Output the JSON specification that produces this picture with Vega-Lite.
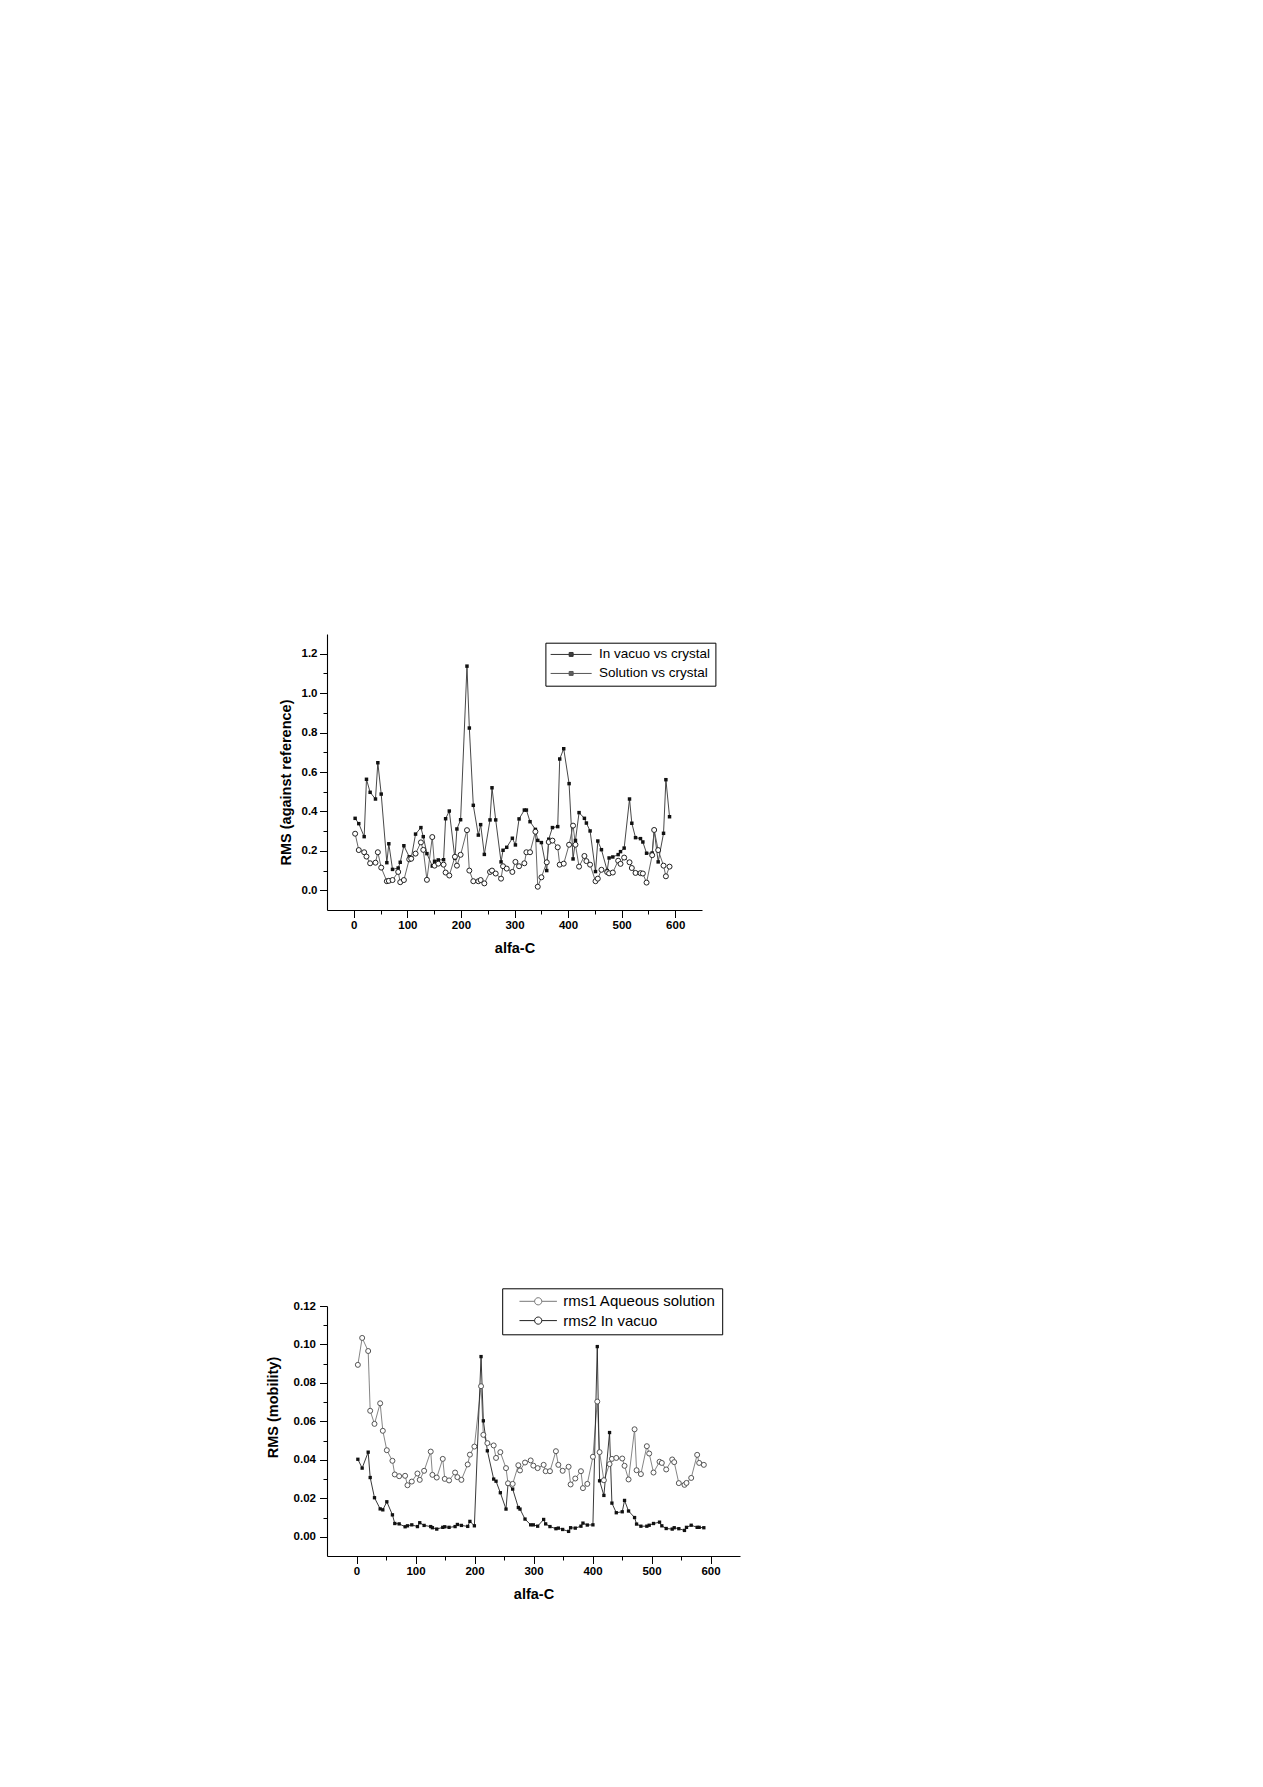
{
  "$schema": "https://vega.github.io/schema/vega-lite/v6.json",
  "autosize": {"type": "pad"},
  "padding": {"left": 265, "top": 634, "right": 10, "bottom": 10},
  "background": "white",
  "config": {
    "view": {"stroke": null},
    "font": "Liberation Sans",
    "axis": {
      "grid": false, "domainColor": "#000000", "tickColor": "#000000", "labelColor": "#000000", "titleColor": "#000000",
      "labelFont": "Liberation Sans", "titleFont": "Liberation Sans", "labelFontWeight": "bold", "titleFontWeight": "bold",
      "domainWidth": 1.1, "tickWidth": 1, "labelFlush": false, "labelOverlap": false
    }
  },
  "spacing": 396,
  "bounds": "flush",
  "resolve": {
    "scale": {"color": "independent"},
    "legend": {"color": "independent"}
  },
  "datasets": {
    "top": [
      {"c":2.5,"r":0.365,"s":"In vacuo vs crystal"},{"c":9.3,"r":0.338,"s":"In vacuo vs crystal"},{"c":19.4,"r":0.272,"s":"In vacuo vs crystal"},{"c":23.7,"r":0.563,"s":"In vacuo vs crystal"},
      {"c":30.5,"r":0.497,"s":"In vacuo vs crystal"},{"c":40.5,"r":0.463,"s":"In vacuo vs crystal"},{"c":44.9,"r":0.647,"s":"In vacuo vs crystal"},{"c":51.2,"r":0.488,"s":"In vacuo vs crystal"},
      {"c":61.7,"r":0.14,"s":"In vacuo vs crystal"},{"c":65.4,"r":0.236,"s":"In vacuo vs crystal"},{"c":72.3,"r":0.106,"s":"In vacuo vs crystal"},{"c":82.9,"r":0.113,"s":"In vacuo vs crystal"},
      {"c":86.7,"r":0.142,"s":"In vacuo vs crystal"},{"c":93.5,"r":0.226,"s":"In vacuo vs crystal"},{"c":103.5,"r":0.17,"s":"In vacuo vs crystal"},{"c":107.2,"r":0.162,"s":"In vacuo vs crystal"},
      {"c":115.3,"r":0.285,"s":"In vacuo vs crystal"},{"c":125.3,"r":0.318,"s":"In vacuo vs crystal"},{"c":129.7,"r":0.272,"s":"In vacuo vs crystal"},{"c":136.5,"r":0.186,"s":"In vacuo vs crystal"},
      {"c":146.5,"r":0.123,"s":"In vacuo vs crystal"},{"c":150.8,"r":0.147,"s":"In vacuo vs crystal"},{"c":157.7,"r":0.154,"s":"In vacuo vs crystal"},{"c":167.6,"r":0.155,"s":"In vacuo vs crystal"},
      {"c":171.4,"r":0.363,"s":"In vacuo vs crystal"},{"c":178.3,"r":0.402,"s":"In vacuo vs crystal"},{"c":188.8,"r":0.162,"s":"In vacuo vs crystal"},{"c":192.5,"r":0.311,"s":"In vacuo vs crystal"},
      {"c":199.4,"r":0.358,"s":"In vacuo vs crystal"},{"c":211.3,"r":1.137,"s":"In vacuo vs crystal"},{"c":215.7,"r":0.823,"s":"In vacuo vs crystal"},{"c":223.1,"r":0.431,"s":"In vacuo vs crystal"},
      {"c":232.5,"r":0.28,"s":"In vacuo vs crystal"},{"c":236.8,"r":0.333,"s":"In vacuo vs crystal"},{"c":243.7,"r":0.182,"s":"In vacuo vs crystal"},{"c":254.3,"r":0.357,"s":"In vacuo vs crystal"},
      {"c":258,"r":0.52,"s":"In vacuo vs crystal"},{"c":264.9,"r":0.357,"s":"In vacuo vs crystal"},{"c":274.9,"r":0.144,"s":"In vacuo vs crystal"},{"c":278.6,"r":0.203,"s":"In vacuo vs crystal"},
      {"c":285.5,"r":0.218,"s":"In vacuo vs crystal"},{"c":296,"r":0.264,"s":"In vacuo vs crystal"},{"c":301.7,"r":0.23,"s":"In vacuo vs crystal"},{"c":308.5,"r":0.362,"s":"In vacuo vs crystal"},
      {"c":318.4,"r":0.407,"s":"In vacuo vs crystal"},{"c":322.2,"r":0.407,"s":"In vacuo vs crystal"},{"c":329,"r":0.348,"s":"In vacuo vs crystal"},{"c":339,"r":0.309,"s":"In vacuo vs crystal"},
      {"c":343.4,"r":0.253,"s":"In vacuo vs crystal"},{"c":350.2,"r":0.242,"s":"In vacuo vs crystal"},{"c":360.2,"r":0.1,"s":"In vacuo vs crystal"},{"c":363.9,"r":0.259,"s":"In vacuo vs crystal"},
      {"c":370.8,"r":0.318,"s":"In vacuo vs crystal"},{"c":380.7,"r":0.323,"s":"In vacuo vs crystal"},{"c":384.4,"r":0.666,"s":"In vacuo vs crystal"},{"c":391.9,"r":0.718,"s":"In vacuo vs crystal"},
      {"c":401.9,"r":0.541,"s":"In vacuo vs crystal"},{"c":409.3,"r":0.159,"s":"In vacuo vs crystal"},{"c":413.8,"r":0.253,"s":"In vacuo vs crystal"},{"c":420.5,"r":0.394,"s":"In vacuo vs crystal"},
      {"c":430.5,"r":0.365,"s":"In vacuo vs crystal"},{"c":434.2,"r":0.341,"s":"In vacuo vs crystal"},{"c":441.1,"r":0.301,"s":"In vacuo vs crystal"},{"c":451.2,"r":0.095,"s":"In vacuo vs crystal"},
      {"c":455.5,"r":0.25,"s":"In vacuo vs crystal"},{"c":462.3,"r":0.206,"s":"In vacuo vs crystal"},{"c":473,"r":0.1,"s":"In vacuo vs crystal"},{"c":476.6,"r":0.164,"s":"In vacuo vs crystal"},
      {"c":483.5,"r":0.169,"s":"In vacuo vs crystal"},{"c":493.5,"r":0.181,"s":"In vacuo vs crystal"},{"c":497.9,"r":0.196,"s":"In vacuo vs crystal"},{"c":504.7,"r":0.214,"s":"In vacuo vs crystal"},
      {"c":514.7,"r":0.463,"s":"In vacuo vs crystal"},{"c":519,"r":0.34,"s":"In vacuo vs crystal"},{"c":525.9,"r":0.267,"s":"In vacuo vs crystal"},{"c":535.2,"r":0.262,"s":"In vacuo vs crystal"},
      {"c":539.6,"r":0.245,"s":"In vacuo vs crystal"},{"c":546.5,"r":0.188,"s":"In vacuo vs crystal"},{"c":557,"r":0.189,"s":"In vacuo vs crystal"},{"c":560.7,"r":0.306,"s":"In vacuo vs crystal"},
      {"c":568.2,"r":0.144,"s":"In vacuo vs crystal"},{"c":578.2,"r":0.289,"s":"In vacuo vs crystal"},{"c":582.6,"r":0.561,"s":"In vacuo vs crystal"},{"c":589.4,"r":0.373,"s":"In vacuo vs crystal"},
      {"c":2.5,"r":0.287,"s":"Solution vs crystal"},{"c":9.3,"r":0.204,"s":"Solution vs crystal"},{"c":19.4,"r":0.193,"s":"Solution vs crystal"},{"c":23.7,"r":0.171,"s":"Solution vs crystal"},
      {"c":30.5,"r":0.137,"s":"Solution vs crystal"},{"c":40.5,"r":0.14,"s":"Solution vs crystal"},{"c":44.9,"r":0.193,"s":"Solution vs crystal"},{"c":51.2,"r":0.115,"s":"Solution vs crystal"},
      {"c":61.7,"r":0.046,"s":"Solution vs crystal"},{"c":65.4,"r":0.048,"s":"Solution vs crystal"},{"c":72.3,"r":0.052,"s":"Solution vs crystal"},{"c":82.9,"r":0.093,"s":"Solution vs crystal"},
      {"c":86.7,"r":0.041,"s":"Solution vs crystal"},{"c":93.5,"r":0.052,"s":"Solution vs crystal"},{"c":103.5,"r":0.157,"s":"Solution vs crystal"},{"c":107.2,"r":0.16,"s":"Solution vs crystal"},
      {"c":115.3,"r":0.186,"s":"Solution vs crystal"},{"c":125.3,"r":0.243,"s":"Solution vs crystal"},{"c":129.7,"r":0.205,"s":"Solution vs crystal"},{"c":136.5,"r":0.053,"s":"Solution vs crystal"},
      {"c":146.5,"r":0.27,"s":"Solution vs crystal"},{"c":150.8,"r":0.125,"s":"Solution vs crystal"},{"c":157.7,"r":0.135,"s":"Solution vs crystal"},{"c":167.6,"r":0.13,"s":"Solution vs crystal"},
      {"c":171.4,"r":0.09,"s":"Solution vs crystal"},{"c":178.3,"r":0.075,"s":"Solution vs crystal"},{"c":188.8,"r":0.17,"s":"Solution vs crystal"},{"c":192.5,"r":0.125,"s":"Solution vs crystal"},
      {"c":199.4,"r":0.18,"s":"Solution vs crystal"},{"c":211.3,"r":0.305,"s":"Solution vs crystal"},{"c":215.7,"r":0.1,"s":"Solution vs crystal"},{"c":223.1,"r":0.046,"s":"Solution vs crystal"},
      {"c":232.5,"r":0.046,"s":"Solution vs crystal"},{"c":236.8,"r":0.052,"s":"Solution vs crystal"},{"c":243.7,"r":0.035,"s":"Solution vs crystal"},{"c":254.3,"r":0.093,"s":"Solution vs crystal"},
      {"c":258,"r":0.1,"s":"Solution vs crystal"},{"c":264.9,"r":0.085,"s":"Solution vs crystal"},{"c":274.9,"r":0.059,"s":"Solution vs crystal"},{"c":278.6,"r":0.122,"s":"Solution vs crystal"},
      {"c":285.5,"r":0.11,"s":"Solution vs crystal"},{"c":296,"r":0.093,"s":"Solution vs crystal"},{"c":301.7,"r":0.144,"s":"Solution vs crystal"},{"c":308.5,"r":0.122,"s":"Solution vs crystal"},
      {"c":318.4,"r":0.137,"s":"Solution vs crystal"},{"c":322.2,"r":0.193,"s":"Solution vs crystal"},{"c":329,"r":0.193,"s":"Solution vs crystal"},{"c":339,"r":0.297,"s":"Solution vs crystal"},
      {"c":343.4,"r":0.018,"s":"Solution vs crystal"},{"c":350.2,"r":0.066,"s":"Solution vs crystal"},{"c":360.2,"r":0.142,"s":"Solution vs crystal"},{"c":363.9,"r":0.245,"s":"Solution vs crystal"},
      {"c":370.8,"r":0.252,"s":"Solution vs crystal"},{"c":380.7,"r":0.218,"s":"Solution vs crystal"},{"c":384.4,"r":0.13,"s":"Solution vs crystal"},{"c":391.9,"r":0.135,"s":"Solution vs crystal"},
      {"c":401.9,"r":0.231,"s":"Solution vs crystal"},{"c":409.3,"r":0.328,"s":"Solution vs crystal"},{"c":413.8,"r":0.231,"s":"Solution vs crystal"},{"c":420.5,"r":0.12,"s":"Solution vs crystal"},
      {"c":430.5,"r":0.174,"s":"Solution vs crystal"},{"c":434.2,"r":0.148,"s":"Solution vs crystal"},{"c":441.1,"r":0.13,"s":"Solution vs crystal"},{"c":451.2,"r":0.046,"s":"Solution vs crystal"},
      {"c":455.5,"r":0.059,"s":"Solution vs crystal"},{"c":462.3,"r":0.104,"s":"Solution vs crystal"},{"c":473,"r":0.092,"s":"Solution vs crystal"},{"c":476.6,"r":0.086,"s":"Solution vs crystal"},
      {"c":483.5,"r":0.09,"s":"Solution vs crystal"},{"c":493.5,"r":0.15,"s":"Solution vs crystal"},{"c":497.9,"r":0.134,"s":"Solution vs crystal"},{"c":504.7,"r":0.166,"s":"Solution vs crystal"},
      {"c":514.7,"r":0.142,"s":"Solution vs crystal"},{"c":519,"r":0.113,"s":"Solution vs crystal"},{"c":525.9,"r":0.088,"s":"Solution vs crystal"},{"c":535.2,"r":0.087,"s":"Solution vs crystal"},
      {"c":539.6,"r":0.085,"s":"Solution vs crystal"},{"c":546.5,"r":0.039,"s":"Solution vs crystal"},{"c":557,"r":0.178,"s":"Solution vs crystal"},{"c":560.7,"r":0.306,"s":"Solution vs crystal"},
      {"c":568.2,"r":0.204,"s":"Solution vs crystal"},{"c":578.2,"r":0.125,"s":"Solution vs crystal"},{"c":582.6,"r":0.071,"s":"Solution vs crystal"},{"c":589.4,"r":0.12,"s":"Solution vs crystal"}
    ],
    "bottom": [
      {"c":2.3,"r":0.0894,"s":"rms1 Aqueous solution"},{"c":9.6,"r":0.1034,"s":"rms1 Aqueous solution"},{"c":19.8,"r":0.0966,"s":"rms1 Aqueous solution"},{"c":23.2,"r":0.0655,"s":"rms1 Aqueous solution"},
      {"c":30.5,"r":0.0587,"s":"rms1 Aqueous solution"},{"c":40.1,"r":0.0694,"s":"rms1 Aqueous solution"},{"c":44.6,"r":0.0551,"s":"rms1 Aqueous solution"},{"c":51.4,"r":0.045,"s":"rms1 Aqueous solution"},
      {"c":60.9,"r":0.0395,"s":"rms1 Aqueous solution"},{"c":64.9,"r":0.0324,"s":"rms1 Aqueous solution"},{"c":72.3,"r":0.0315,"s":"rms1 Aqueous solution"},{"c":82.4,"r":0.0317,"s":"rms1 Aqueous solution"},
      {"c":86.4,"r":0.0268,"s":"rms1 Aqueous solution"},{"c":93.7,"r":0.0287,"s":"rms1 Aqueous solution"},{"c":103.3,"r":0.0329,"s":"rms1 Aqueous solution"},{"c":107.2,"r":0.0296,"s":"rms1 Aqueous solution"},
      {"c":114.6,"r":0.0343,"s":"rms1 Aqueous solution"},{"c":125.8,"r":0.0443,"s":"rms1 Aqueous solution"},{"c":128.7,"r":0.0322,"s":"rms1 Aqueous solution"},{"c":136,"r":0.0308,"s":"rms1 Aqueous solution"},
      {"c":146.2,"r":0.0405,"s":"rms1 Aqueous solution"},{"c":149.6,"r":0.0301,"s":"rms1 Aqueous solution"},{"c":156.9,"r":0.0293,"s":"rms1 Aqueous solution"},{"c":167.1,"r":0.0334,"s":"rms1 Aqueous solution"},
      {"c":171,"r":0.031,"s":"rms1 Aqueous solution"},{"c":177.8,"r":0.0296,"s":"rms1 Aqueous solution"},{"c":188.5,"r":0.0376,"s":"rms1 Aqueous solution"},{"c":192.2,"r":0.0427,"s":"rms1 Aqueous solution"},
      {"c":199.8,"r":0.0469,"s":"rms1 Aqueous solution"},{"c":211.1,"r":0.0783,"s":"rms1 Aqueous solution"},{"c":215,"r":0.053,"s":"rms1 Aqueous solution"},{"c":221.8,"r":0.0487,"s":"rms1 Aqueous solution"},
      {"c":232.5,"r":0.0475,"s":"rms1 Aqueous solution"},{"c":236.5,"r":0.041,"s":"rms1 Aqueous solution"},{"c":243.8,"r":0.044,"s":"rms1 Aqueous solution"},{"c":253.4,"r":0.0357,"s":"rms1 Aqueous solution"},
      {"c":256.8,"r":0.0278,"s":"rms1 Aqueous solution"},{"c":264.7,"r":0.0275,"s":"rms1 Aqueous solution"},{"c":274.3,"r":0.0372,"s":"rms1 Aqueous solution"},{"c":277.1,"r":0.0345,"s":"rms1 Aqueous solution"},
      {"c":285.6,"r":0.0386,"s":"rms1 Aqueous solution"},{"c":295.2,"r":0.0397,"s":"rms1 Aqueous solution"},{"c":299.7,"r":0.037,"s":"rms1 Aqueous solution"},{"c":307,"r":0.0357,"s":"rms1 Aqueous solution"},
      {"c":317.2,"r":0.0374,"s":"rms1 Aqueous solution"},{"c":320.6,"r":0.0341,"s":"rms1 Aqueous solution"},{"c":327.9,"r":0.0341,"s":"rms1 Aqueous solution"},{"c":338,"r":0.0445,"s":"rms1 Aqueous solution"},
      {"c":342.1,"r":0.0374,"s":"rms1 Aqueous solution"},{"c":349.4,"r":0.0343,"s":"rms1 Aqueous solution"},{"c":359.5,"r":0.0364,"s":"rms1 Aqueous solution"},{"c":362.9,"r":0.0272,"s":"rms1 Aqueous solution"},
      {"c":370.8,"r":0.0303,"s":"rms1 Aqueous solution"},{"c":380.4,"r":0.0341,"s":"rms1 Aqueous solution"},{"c":383.8,"r":0.0253,"s":"rms1 Aqueous solution"},{"c":391.2,"r":0.0275,"s":"rms1 Aqueous solution"},
      {"c":400.7,"r":0.0416,"s":"rms1 Aqueous solution"},{"c":408.1,"r":0.0703,"s":"rms1 Aqueous solution"},{"c":412,"r":0.044,"s":"rms1 Aqueous solution"},{"c":419.3,"r":0.0294,"s":"rms1 Aqueous solution"},
      {"c":428.9,"r":0.0378,"s":"rms1 Aqueous solution"},{"c":432.9,"r":0.0405,"s":"rms1 Aqueous solution"},{"c":440.3,"r":0.041,"s":"rms1 Aqueous solution"},{"c":450.4,"r":0.0407,"s":"rms1 Aqueous solution"},
      {"c":454.3,"r":0.0369,"s":"rms1 Aqueous solution"},{"c":461.1,"r":0.0298,"s":"rms1 Aqueous solution"},{"c":471.3,"r":0.0559,"s":"rms1 Aqueous solution"},{"c":474.7,"r":0.0346,"s":"rms1 Aqueous solution"},
      {"c":482,"r":0.0326,"s":"rms1 Aqueous solution"},{"c":492.1,"r":0.0471,"s":"rms1 Aqueous solution"},{"c":496.1,"r":0.0433,"s":"rms1 Aqueous solution"},{"c":503.4,"r":0.0334,"s":"rms1 Aqueous solution"},
      {"c":513.6,"r":0.039,"s":"rms1 Aqueous solution"},{"c":517.5,"r":0.0384,"s":"rms1 Aqueous solution"},{"c":524.9,"r":0.035,"s":"rms1 Aqueous solution"},{"c":535.1,"r":0.0402,"s":"rms1 Aqueous solution"},
      {"c":538.5,"r":0.0388,"s":"rms1 Aqueous solution"},{"c":546.3,"r":0.0279,"s":"rms1 Aqueous solution"},{"c":555.9,"r":0.027,"s":"rms1 Aqueous solution"},{"c":559.3,"r":0.028,"s":"rms1 Aqueous solution"},
      {"c":567.3,"r":0.0306,"s":"rms1 Aqueous solution"},{"c":577.4,"r":0.0426,"s":"rms1 Aqueous solution"},{"c":580.8,"r":0.0384,"s":"rms1 Aqueous solution"},{"c":588.7,"r":0.0374,"s":"rms1 Aqueous solution"},
      {"c":2.3,"r":0.0403,"s":"rms2 In vacuo"},{"c":9.6,"r":0.0357,"s":"rms2 In vacuo"},{"c":19.8,"r":0.044,"s":"rms2 In vacuo"},{"c":23.2,"r":0.0308,"s":"rms2 In vacuo"},
      {"c":30.5,"r":0.0203,"s":"rms2 In vacuo"},{"c":40.1,"r":0.0145,"s":"rms2 In vacuo"},{"c":44.6,"r":0.014,"s":"rms2 In vacuo"},{"c":51.4,"r":0.0182,"s":"rms2 In vacuo"},
      {"c":60.9,"r":0.0114,"s":"rms2 In vacuo"},{"c":64.9,"r":0.0069,"s":"rms2 In vacuo"},{"c":72.3,"r":0.0067,"s":"rms2 In vacuo"},{"c":82.4,"r":0.0052,"s":"rms2 In vacuo"},
      {"c":86.4,"r":0.0057,"s":"rms2 In vacuo"},{"c":93.7,"r":0.0062,"s":"rms2 In vacuo"},{"c":103.3,"r":0.0053,"s":"rms2 In vacuo"},{"c":107.2,"r":0.0073,"s":"rms2 In vacuo"},
      {"c":114.6,"r":0.0059,"s":"rms2 In vacuo"},{"c":125.8,"r":0.0053,"s":"rms2 In vacuo"},{"c":128.7,"r":0.0047,"s":"rms2 In vacuo"},{"c":136,"r":0.004,"s":"rms2 In vacuo"},
      {"c":146.2,"r":0.0049,"s":"rms2 In vacuo"},{"c":149.6,"r":0.0052,"s":"rms2 In vacuo"},{"c":156.9,"r":0.0049,"s":"rms2 In vacuo"},{"c":167.1,"r":0.0053,"s":"rms2 In vacuo"},
      {"c":171,"r":0.0064,"s":"rms2 In vacuo"},{"c":177.8,"r":0.0059,"s":"rms2 In vacuo"},{"c":188.5,"r":0.0054,"s":"rms2 In vacuo"},{"c":192.2,"r":0.008,"s":"rms2 In vacuo"},
      {"c":199.8,"r":0.0057,"s":"rms2 In vacuo"},{"c":211.1,"r":0.0937,"s":"rms2 In vacuo"},{"c":215,"r":0.0603,"s":"rms2 In vacuo"},{"c":221.8,"r":0.0447,"s":"rms2 In vacuo"},
      {"c":232.5,"r":0.03,"s":"rms2 In vacuo"},{"c":236.5,"r":0.0289,"s":"rms2 In vacuo"},{"c":243.8,"r":0.0229,"s":"rms2 In vacuo"},{"c":253.4,"r":0.0144,"s":"rms2 In vacuo"},
      {"c":256.8,"r":0.0274,"s":"rms2 In vacuo"},{"c":264.7,"r":0.0248,"s":"rms2 In vacuo"},{"c":274.3,"r":0.0152,"s":"rms2 In vacuo"},{"c":277.1,"r":0.0144,"s":"rms2 In vacuo"},
      {"c":285.6,"r":0.0092,"s":"rms2 In vacuo"},{"c":295.2,"r":0.0062,"s":"rms2 In vacuo"},{"c":299.7,"r":0.0062,"s":"rms2 In vacuo"},{"c":307,"r":0.0055,"s":"rms2 In vacuo"},
      {"c":317.2,"r":0.009,"s":"rms2 In vacuo"},{"c":320.6,"r":0.0067,"s":"rms2 In vacuo"},{"c":327.9,"r":0.0053,"s":"rms2 In vacuo"},{"c":338,"r":0.0042,"s":"rms2 In vacuo"},
      {"c":342.1,"r":0.0045,"s":"rms2 In vacuo"},{"c":349.4,"r":0.0038,"s":"rms2 In vacuo"},{"c":359.5,"r":0.0028,"s":"rms2 In vacuo"},{"c":362.9,"r":0.0047,"s":"rms2 In vacuo"},
      {"c":370.8,"r":0.0045,"s":"rms2 In vacuo"},{"c":380.4,"r":0.0055,"s":"rms2 In vacuo"},{"c":383.8,"r":0.0071,"s":"rms2 In vacuo"},{"c":391.2,"r":0.0061,"s":"rms2 In vacuo"},
      {"c":400.7,"r":0.0062,"s":"rms2 In vacuo"},{"c":408.1,"r":0.0989,"s":"rms2 In vacuo"},{"c":412,"r":0.0291,"s":"rms2 In vacuo"},{"c":419.3,"r":0.0215,"s":"rms2 In vacuo"},
      {"c":428.9,"r":0.0542,"s":"rms2 In vacuo"},{"c":432.9,"r":0.0175,"s":"rms2 In vacuo"},{"c":440.3,"r":0.0125,"s":"rms2 In vacuo"},{"c":450.4,"r":0.013,"s":"rms2 In vacuo"},
      {"c":454.3,"r":0.0189,"s":"rms2 In vacuo"},{"c":461.1,"r":0.0134,"s":"rms2 In vacuo"},{"c":471.3,"r":0.01,"s":"rms2 In vacuo"},{"c":474.7,"r":0.0066,"s":"rms2 In vacuo"},
      {"c":482,"r":0.0055,"s":"rms2 In vacuo"},{"c":492.1,"r":0.0055,"s":"rms2 In vacuo"},{"c":496.1,"r":0.006,"s":"rms2 In vacuo"},{"c":503.4,"r":0.0069,"s":"rms2 In vacuo"},
      {"c":513.6,"r":0.0076,"s":"rms2 In vacuo"},{"c":517.5,"r":0.0057,"s":"rms2 In vacuo"},{"c":524.9,"r":0.0043,"s":"rms2 In vacuo"},{"c":535.1,"r":0.004,"s":"rms2 In vacuo"},
      {"c":538.5,"r":0.0047,"s":"rms2 In vacuo"},{"c":546.3,"r":0.0042,"s":"rms2 In vacuo"},{"c":555.9,"r":0.0033,"s":"rms2 In vacuo"},{"c":559.3,"r":0.0049,"s":"rms2 In vacuo"},
      {"c":567.3,"r":0.006,"s":"rms2 In vacuo"},{"c":577.4,"r":0.0049,"s":"rms2 In vacuo"},{"c":580.8,"r":0.0049,"s":"rms2 In vacuo"},{"c":588.7,"r":0.0047,"s":"rms2 In vacuo"}
    ]
  },
  "vconcat": [
    {
      "width": 375,
      "height": 276,
      "data": {"name": "top"},
      "layer": [
        {
          "mark": {"type": "line", "strokeWidth": 0.9},
          "encoding": {
            "x": {"field": "c", "type": "quantitative", "scale": {"domain": [-50, 650], "nice": false, "zero": false},
                  "axis": {"orient": "bottom", "values": [0, 100, 200, 300, 400, 500, 600], "format": "d", "title": "alfa-C",
                           "tickSize": 7.5, "labelPadding": 2, "labelFontSize": 11.5, "titleFontSize": 14.5, "titlePadding": 10}},
            "y": {"field": "r", "type": "quantitative", "scale": {"domain": [-0.1, 1.3], "nice": false, "zero": false},
                  "axis": {"orient": "left", "values": [0, 0.2, 0.4, 0.6, 0.8, 1.0, 1.2], "format": ".1f", "title": "RMS (against reference)",
                           "tickSize": 7.5, "labelPadding": 2.5, "labelFontSize": 11.5, "titleFontSize": 14.5, "titleX": -33.5, "titleY": 148}},
            "color": {"field": "s", "type": "nominal",
                      "scale": {"domain": ["In vacuo vs crystal", "Solution vs crystal"], "range": ["#333333", "#555555"]},
                      "legend": {"orient": "none", "legendX": 218.4, "legendY": 8.7, "title": null,
                        "strokeColor": "#000000", "fillColor": "#ffffff", "padding": 5,
                        "labelFont": "Liberation Sans", "labelFontSize": 13.5, "labelColor": "#000000",
                        "symbolType": "M-3.42,0H3.42M-0.33,-0.33H0.33M-0.33,-0.17H0.33M-0.33,0.17H0.33M-0.33,0.33H0.33M-0.33,-0.33V0.33M0.33,-0.33V0.33",
                        "symbolSize": 144, "symbolOffset": 14, "labelOffset": 21, "rowPadding": 4, "symbolStrokeWidth": 1, "symbolOpacity": 1}}
          }
        },
        {
          "transform": [{"filter": "datum.s === 'In vacuo vs crystal'"}],
          "mark": {"type": "point", "shape": "square", "filled": true, "color": "#111111", "size": 12, "opacity": 1},
          "encoding": {
            "x": {"field": "c", "type": "quantitative", "scale": {"domain": [-50, 650], "nice": false, "zero": false},
                  "axis": {"orient": "bottom", "values": [50, 150, 250, 350, 450, 550], "labels": false, "domain": false, "title": null, "tickSize": 4}},
            "y": {"field": "r", "type": "quantitative", "scale": {"domain": [-0.1, 1.3], "nice": false, "zero": false},
                  "axis": {"orient": "left", "values": [0.1, 0.3, 0.5, 0.7, 0.9, 1.1], "labels": false, "domain": false, "title": null, "tickSize": 4}}
          }
        },
        {
          "transform": [{"filter": "datum.s === 'Solution vs crystal'"}],
          "mark": {"type": "point", "shape": "circle", "filled": false, "fill": "#ffffff", "stroke": "#222222", "strokeWidth": 1, "size": 25, "opacity": 1},
          "encoding": {
            "x": {"field": "c", "type": "quantitative", "scale": {"domain": [-50, 650], "nice": false, "zero": false}, "axis": null},
            "y": {"field": "r", "type": "quantitative", "scale": {"domain": [-0.1, 1.3], "nice": false, "zero": false}, "axis": null}
          }
        }
      ],
      "resolve": {"axis": {"x": "independent", "y": "independent"}}
    },
    {
      "width": 413,
      "height": 250,
      "data": {"name": "bottom"},
      "layer": [
        {
          "mark": {"type": "line", "strokeWidth": 0.9},
          "encoding": {
            "x": {"field": "c", "type": "quantitative", "scale": {"domain": [-50, 650], "nice": false, "zero": false},
                  "axis": {"orient": "bottom", "values": [0, 100, 200, 300, 400, 500, 600], "format": "d", "title": "alfa-C",
                           "tickSize": 7.5, "labelPadding": 2, "labelFontSize": 11.5, "titleFontSize": 14.5, "titlePadding": 10}},
            "y": {"field": "r", "type": "quantitative", "scale": {"domain": [-0.01, 0.12], "nice": false, "zero": false},
                  "axis": {"orient": "left", "values": [0, 0.02, 0.04, 0.06, 0.08, 0.1, 0.12], "format": ".2f", "title": "RMS (mobility)",
                           "tickSize": 7.5, "labelPadding": 4, "labelFontSize": 11.5, "titleFontSize": 14.5, "titleX": -46.5, "titleY": 101}},
            "color": {"field": "s", "type": "nominal",
                      "scale": {"domain": ["rms1 Aqueous solution", "rms2 In vacuo"], "range": ["#777777", "#222222"]},
                      "legend": {"orient": "none", "legendX": 175.2, "legendY": -17.7, "title": null,
                        "strokeColor": "#000000", "fillColor": "#ffffff", "padding": 5.5,
                        "labelFont": "Liberation Sans", "labelFontSize": 15, "labelColor": "#000000",
                        "symbolType": "M-3.12,0H-0.6M0.6,0H3.12M0.6,0A0.6,0.6,0,1,1,-0.6,0A0.6,0.6,0,1,1,0.6,0Z",
                        "symbolFillColor": "#ffffff",
                        "symbolSize": 144, "symbolOffset": 23, "labelOffset": 17.5, "rowPadding": 3.3, "symbolStrokeWidth": 1, "symbolOpacity": 1}}
          }
        },
        {
          "transform": [{"filter": "datum.s === 'rms2 In vacuo'"}],
          "mark": {"type": "point", "shape": "square", "filled": true, "color": "#111111", "size": 11, "opacity": 1},
          "encoding": {
            "x": {"field": "c", "type": "quantitative", "scale": {"domain": [-50, 650], "nice": false, "zero": false},
                  "axis": {"orient": "bottom", "values": [50, 150, 250, 350, 450, 550], "labels": false, "domain": false, "title": null, "tickSize": 4}},
            "y": {"field": "r", "type": "quantitative", "scale": {"domain": [-0.01, 0.12], "nice": false, "zero": false},
                  "axis": {"orient": "left", "values": [0.01, 0.03, 0.05, 0.07, 0.09, 0.11], "labels": false, "domain": false, "title": null, "tickSize": 4}}
          }
        },
        {
          "transform": [{"filter": "datum.s === 'rms1 Aqueous solution'"}],
          "mark": {"type": "point", "shape": "circle", "filled": false, "fill": "#ffffff", "stroke": "#555555", "strokeWidth": 1, "size": 25, "opacity": 1},
          "encoding": {
            "x": {"field": "c", "type": "quantitative", "scale": {"domain": [-50, 650], "nice": false, "zero": false}, "axis": null},
            "y": {"field": "r", "type": "quantitative", "scale": {"domain": [-0.01, 0.12], "nice": false, "zero": false}, "axis": null}
          }
        }
      ],
      "resolve": {"axis": {"x": "independent", "y": "independent"}}
    }
  ]
}
